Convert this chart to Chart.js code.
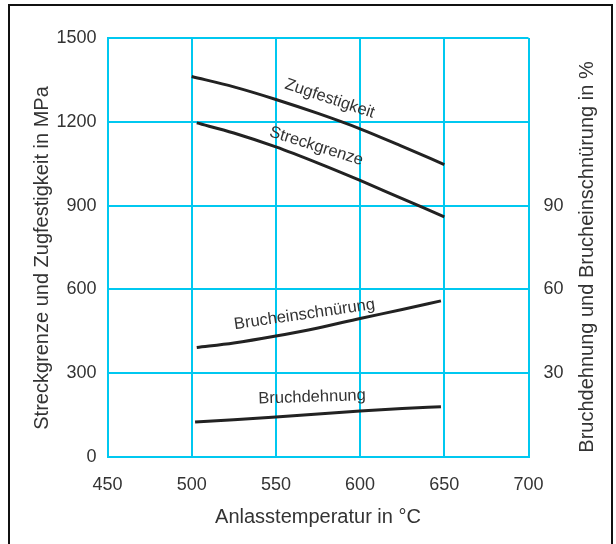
<!DOCTYPE html>
<html>
<head>
<meta charset="utf-8">
<script src="https://cdn.jsdelivr.net/npm/chart.js@4.4.0/dist/chart.umd.min.js"></script>
<style>
  html, body { margin: 0; padding: 0; background: #fff; overflow: hidden; }
  #wrap { position: relative; width: 616px; height: 544px; }
  #frame { position: absolute; left: 8px; top: 4px; width: 605px; height: 560px; border: 2px solid #111; box-sizing: border-box; pointer-events: none; }
</style>
</head>
<body>
<div id="wrap">
  <canvas id="myChart" width="616" height="544"></canvas>
  <div id="frame"></div>
</div>
<script>
// temperatures (°C) and values
const tempZug = [500, 525, 550, 575, 600, 625, 650];
const zugfestigkeit = [1362, 1325, 1280, 1230, 1175, 1112, 1047];

const tempStreck = [503, 525, 550, 575, 600, 625, 650];
const streckgrenze = [1196, 1160, 1110, 1052, 990, 925, 860];

const tempEin = [503, 525, 550, 575, 600, 625, 648];
const brucheinschnuerung = [39.2, 40.8, 43.3, 46.2, 49.6, 52.8, 55.9];

const tempDehn = [502, 525, 550, 575, 600, 625, 648];
const bruchdehnung = [12.5, 13.3, 14.3, 15.4, 16.5, 17.4, 18.0];

const xTicks = [450, 500, 550, 600, 650, 700];
const leftTicks = [0, 300, 600, 900, 1200, 1500];
const rightTicks = [30, 60, 90];

// curve names, placed in data units: [text, x, y, axis, angle in deg]
const curveLabels = [
  ['Zugfestigkeit', 582, 1282, 'y', 18.5],
  ['Streckgrenze', 574, 1112, 'y', 17.5],
  ['Brucheinschnürung', 567, 51.0, 'y1', -8.2],
  ['Bruchdehnung', 571.5, 21.4, 'y1', -1.8]
];

const gridColor = '#00c8f0';
const textColor = '#333';
const fontFam = '"Liberation Sans", Arial, sans-serif';

function pts(xs, ys) {
  return xs.map((x, i) => ({ x: x, y: ys[i] }));
}

const lineStyle = {
  borderColor: '#222',
  borderWidth: 3,
  pointRadius: 0,
  cubicInterpolationMode: 'monotone',
  fill: false
};

// draws the curve names and the axis titles
const textPlugin = {
  id: 'texts',
  afterDraw(chart) {
    const c = chart.ctx;
    c.save();
    c.fillStyle = textColor;
    c.textAlign = 'center';
    c.textBaseline = 'middle';
    c.font = '16.5px ' + fontFam;
    curveLabels.forEach(l => {
      const px = chart.scales.x.getPixelForValue(l[1]);
      const py = chart.scales[l[3]].getPixelForValue(l[2]);
      c.save();
      c.translate(px, py);
      c.rotate(l[4] * Math.PI / 180);
      c.fillText(l[0], 0, 0);
      c.restore();
    });

    c.font = '20px ' + fontFam;
    c.save();
    c.translate(42, 258);
    c.rotate(-Math.PI / 2);
    c.fillText('Streckgrenze und Zugfestigkeit in MPa', 0, 0);
    c.restore();

    c.save();
    c.translate(587, 257);
    c.rotate(-Math.PI / 2);
    c.fillText('Bruchdehnung und Brucheinschnürung in %', 0, 0);
    c.restore();

    c.fillText('Anlasstemperatur in °C', 318, 517);
    c.restore();
  }
};

const tickFont = { family: fontFam, size: 18 };
const plain = v => String(v);

const ctx = document.getElementById('myChart').getContext('2d');

new Chart(ctx, {
  type: 'line',
  data: {
    datasets: [
      Object.assign({ label: 'Zugfestigkeit', data: pts(tempZug, zugfestigkeit), yAxisID: 'y' }, lineStyle),
      Object.assign({ label: 'Streckgrenze', data: pts(tempStreck, streckgrenze), yAxisID: 'y' }, lineStyle),
      Object.assign({ label: 'Brucheinschnürung', data: pts(tempEin, brucheinschnuerung), yAxisID: 'y1' }, lineStyle),
      Object.assign({ label: 'Bruchdehnung', data: pts(tempDehn, bruchdehnung), yAxisID: 'y1' }, lineStyle)
    ]
  },
  options: {
    responsive: false,
    animation: false,
    layout: { padding: { top: 38, left: 0, right: 0, bottom: 0 } },
    plugins: { legend: { display: false }, tooltip: { enabled: false } },
    scales: {
      x: {
        type: 'linear',
        min: 450,
        max: 700,
        afterBuildTicks: s => { s.ticks = xTicks.map(v => ({ value: v })); },
        afterFit: s => { s.height = 87; },
        grid: { color: gridColor, lineWidth: 2, drawTicks: false },
        border: { color: gridColor, width: 2 },
        ticks: { color: textColor, padding: 17, font: tickFont, callback: plain }
      },
      y: {
        position: 'left',
        min: 0,
        max: 1500,
        afterBuildTicks: s => { s.ticks = leftTicks.map(v => ({ value: v })); },
        afterFit: s => { s.width = 107.5; },
        grid: { color: gridColor, lineWidth: 2, drawTicks: false },
        border: { color: gridColor, width: 2 },
        ticks: { color: textColor, padding: 11, font: tickFont, callback: plain }
      },
      y1: {
        position: 'right',
        min: 0,
        max: 150,
        afterBuildTicks: s => { s.ticks = rightTicks.map(v => ({ value: v })); },
        afterFit: s => { s.width = 87.5; },
        grid: { display: false, drawTicks: false },
        border: { display: false },
        ticks: { color: textColor, padding: 15, font: tickFont, callback: plain }
      }
    }
  },
  plugins: [textPlugin]
});
</script>
</body>
</html>
